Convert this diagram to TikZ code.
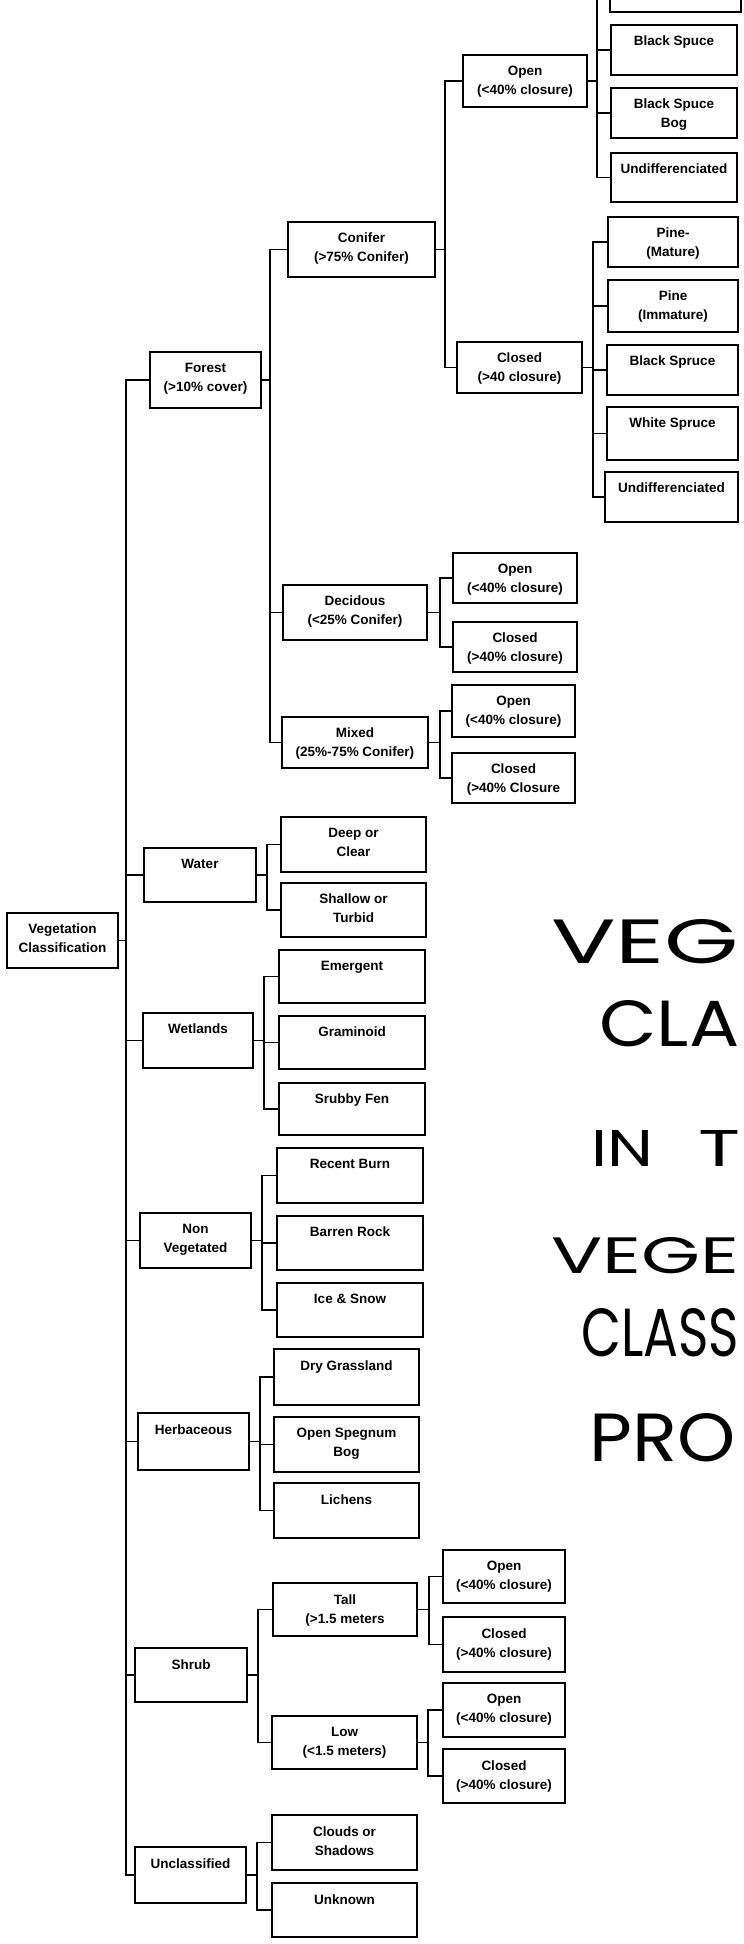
\documentclass[tikz,border=0pt]{standalone}
\usepackage{fontspec}
\setmainfont{Liberation Sans}
\newfontfamily\handfont{Poppins}
\usetikzlibrary{fit}
\newcommand{\bx}[6]{%
  \node[boxst, fit={(#2,#3)(#4,#5)}] (#1) {};
  \node[txt] (#1t) at ([yshift=-11pt]#1.north) {#6};}
\newcommand{\hw}[3]{\resizebox{#1pt}{#2pt}{\handfont #3}}
\begin{document}
\begin{tikzpicture}[x=1pt,y=-1pt,
  boxst/.style={draw, line width=2.6pt, inner sep=0pt, outer sep=0pt},
  txt/.style={font=\bfseries\fontsize{13.5}{19}\selectfont, align=center, anchor=north, inner sep=0pt},
  conn/.style={line width=1.7pt},
  hand/.style={anchor=west, inner sep=0pt}]
\useasboundingbox (0,0) rectangle (744,1944);
\clip (0,0) rectangle (744,1944);

% root
\bx{root}{7}{913}{118}{968}{Vegetation\\Classification}
% forest branch
\bx{forest}{150}{352}{261}{408}{Forest\\(>10\% cover)}
\bx{conifer}{288}{222}{435}{277}{Conifer\\(>75\% Conifer)}
\bx{openA}{463}{55}{587}{107}{Open\\(<40\% closure)}
\bx{closedA}{457}{342}{582}{393}{Closed\\(>40 closure)}
\bx{cut}{610}{-40}{741}{12}{}
\bx{bsA}{611}{25}{737}{75}{Black Spuce}
\bx{bsb}{611}{88}{737}{138}{Black Spuce\\Bog}
\bx{undA}{611}{153}{737}{202}{Undifferenciated}
\bx{pineM}{608}{217}{738}{267}{Pine-\\(Mature)}
\bx{pineI}{608}{280}{738}{332}{Pine\\(Immature)}
\bx{bsB}{607}{345}{738}{395}{Black Spruce}
\bx{ws}{607}{407}{738}{460}{White Spruce}
\bx{undB}{605}{472}{738}{522}{Undifferenciated}
\bx{decid}{283}{585}{427}{640}{Decidous\\(<25\% Conifer)}
\bx{dOpen}{453}{553}{577}{603}{Open\\(<40\% closure)}
\bx{dClosed}{453}{622}{577}{672}{Closed\\(>40\% closure)}
\bx{mixed}{282}{717}{428}{768}{Mixed\\(25\%-75\% Conifer)}
\bx{mOpen}{452}{685}{575}{737}{Open\\(<40\% closure)}
\bx{mClosed}{452}{753}{575}{803}{Closed\\(>40\% Closure}
% water
\bx{water}{144}{848}{256}{902}{Water}
\bx{deep}{281}{817}{426}{872}{Deep or\\Clear}
\bx{shallow}{281}{883}{426}{937}{Shallow or\\Turbid}
% wetlands
\bx{wet}{143}{1013}{253}{1068}{Wetlands}
\bx{emerg}{279}{950}{425}{1003}{Emergent}
\bx{gram}{279}{1016}{425}{1069}{Graminoid}
\bx{srub}{279}{1083}{425}{1135}{Srubby Fen}
% non vegetated
\bx{nonveg}{140}{1213}{251}{1268}{Non\\Vegetated}
\bx{burn}{277}{1148}{423}{1203}{Recent Burn}
\bx{rock}{277}{1216}{423}{1270}{Barren Rock}
\bx{ice}{277}{1283}{423}{1337}{Ice \& Snow}
% herbaceous
\bx{herb}{138}{1413}{249}{1470}{Herbaceous}
\bx{dry}{274}{1349}{419}{1405}{Dry Grassland}
\bx{spag}{274}{1417}{419}{1472}{Open Spegnum\\Bog}
\bx{lich}{274}{1483}{419}{1538}{Lichens}
% shrub
\bx{shrub}{135}{1648}{247}{1702}{Shrub}
\bx{tall}{273}{1583}{417}{1636}{Tall\\(>1.5 meters}
\bx{tOpen}{443}{1550}{565}{1603}{Open\\(<40\% closure)}
\bx{tClosed}{443}{1617}{565}{1672}{Closed\\(>40\% closure)}
\bx{low}{272}{1716}{417}{1769}{Low\\(<1.5 meters)}
\bx{lOpen}{443}{1683}{565}{1737}{Open\\(<40\% closure)}
\bx{lClosed}{443}{1749}{565}{1803}{Closed\\(>40\% closure)}
% unclassified
\bx{uncl}{135}{1847}{246}{1903}{Unclassified}
\bx{clouds}{272}{1815}{417}{1870}{Clouds or\\Shadows}
\bx{unknown}{272}{1883}{417}{1937}{Unknown}

% connectors
\foreach \c in {forest,water,wet,nonveg,herb,shrub,uncl}
  \draw[conn] (root.east) -- ++(8,0) |- (\c.west);
\foreach \c in {conifer,decid,mixed}
  \draw[conn] (forest.east) -- ++(9,0) |- (\c.west);
\foreach \c in {openA,closedA}
  \draw[conn] (conifer.east) -- ++(10,0) |- (\c.west);
\foreach \c in {cut,bsA,bsb,undA}
  \draw[conn] (openA.east) -- ++(10,0) |- (\c.west);
\foreach \c in {pineM,pineI,bsB,ws,undB}
  \draw[conn] (closedA.east) -- ++(11,0) |- (\c.west);
\foreach \c in {dOpen,dClosed}
  \draw[conn] (decid.east) -- ++(13,0) |- (\c.west);
\foreach \c in {mOpen,mClosed}
  \draw[conn] (mixed.east) -- ++(12,0) |- (\c.west);
\foreach \c in {deep,shallow}
  \draw[conn] (water.east) -- ++(11,0) |- (\c.west);
\foreach \c in {emerg,gram,srub}
  \draw[conn] (wet.east) -- ++(11,0) |- (\c.west);
\foreach \c in {burn,rock,ice}
  \draw[conn] (nonveg.east) -- ++(11,0) |- (\c.west);
\foreach \c in {dry,spag,lich}
  \draw[conn] (herb.east) -- ++(11,0) |- (\c.west);
\foreach \c in {tall,low}
  \draw[conn] (shrub.east) -- ++(11,0) |- (\c.west);
\foreach \c in {tOpen,tClosed}
  \draw[conn] (tall.east) -- ++(12,0) |- (\c.west);
\foreach \c in {lOpen,lClosed}
  \draw[conn] (low.east) -- ++(11,0) |- (\c.west);
\foreach \c in {clouds,unknown}
  \draw[conn] (uncl.east) -- ++(11,0) |- (\c.west);

% handwritten note
\node[hand] (h1) at (551,942) {\hw{188}{44}{VEG}};
\node[hand] (h2) at (599,1024) {\hw{140}{46}{CLA}};
\node[hand] (h3) at (591,1148) {\hw{62}{36}{IN}};
\node[hand] (h3b) at (698,1148) {\hw{42}{36}{T}};
\node[hand] (h4) at (551,1256) {\hw{188}{36}{VEGE}};
\node[hand] (h5) at (581,1333) {\hw{158}{48}{CLASS}};
\node[hand] (h6) at (589,1438) {\hw{146}{48}{PRO}};
\end{tikzpicture}
\end{document}
